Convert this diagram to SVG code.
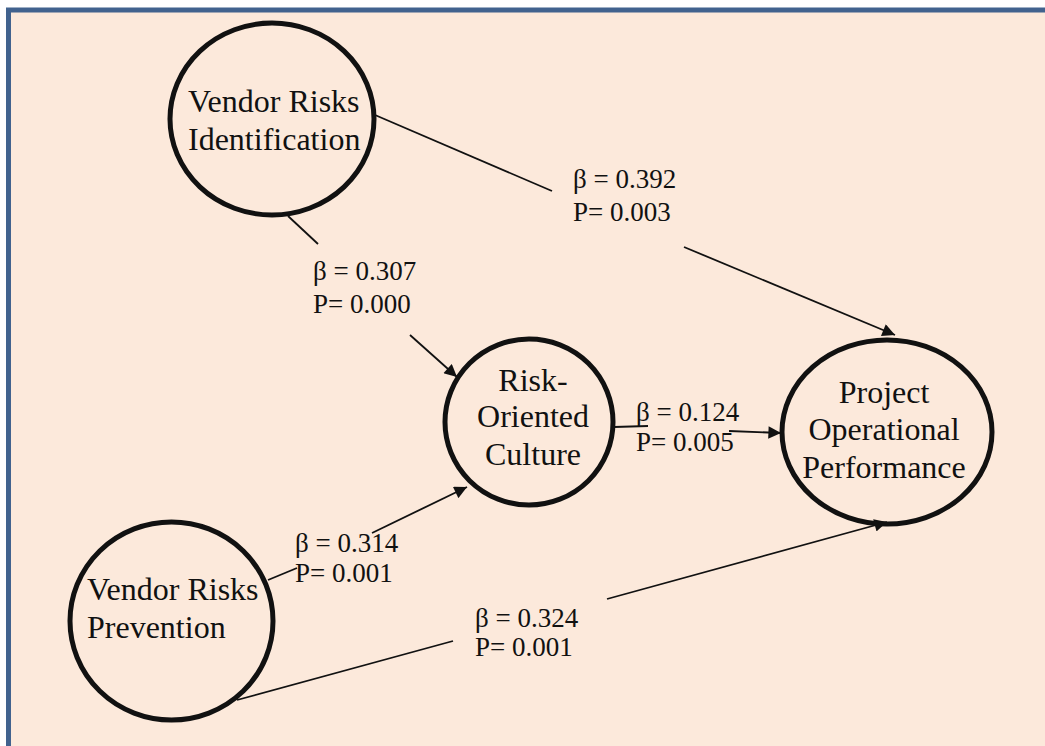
<svg xmlns="http://www.w3.org/2000/svg" width="1045" height="746" viewBox="0 0 1045 746">
<defs>
<style>
.node ellipse{fill:none;stroke:#111;stroke-width:5}
.node text{font-family:"Liberation Serif","Times New Roman",serif;font-size:32px;fill:#111}
.lbl{font-family:"Liberation Serif","Times New Roman",serif;font-size:27px;fill:#111}
.conn line{stroke:#111;stroke-width:1.8;fill:none}
</style>
<marker id="ah" viewBox="0 0 10 10" refX="10" refY="5" markerWidth="8" markerHeight="7" orient="auto" markerUnits="strokeWidth">
<path d="M0,0 L10,5 L0,10 Z" fill="#111"/>
</marker>
</defs>
<rect x="0" y="0" width="1045" height="746" fill="#ffffff"/>
<rect x="8.5" y="10" width="1100" height="800" fill="#FCE9DB" stroke="#41628E" stroke-width="5"/>

<g id="connectors" class="conn">
<line x1="375" y1="115" x2="552" y2="191"/>
<line x1="684" y1="247" x2="895" y2="335" marker-end="url(#ah)"/>
<line x1="288" y1="216" x2="318" y2="244"/>
<line x1="410" y1="335" x2="457" y2="377" marker-end="url(#ah)"/>
<line x1="614" y1="427" x2="648" y2="426"/>
<line x1="729" y1="431" x2="781" y2="433" marker-end="url(#ah)"/>
<line x1="268" y1="580" x2="297" y2="568"/>
<line x1="372" y1="533" x2="467" y2="487" marker-end="url(#ah)"/>
<line x1="237" y1="700" x2="453" y2="641"/>
<line x1="607" y1="599" x2="887" y2="522" marker-end="url(#ah)"/>
<text class="lbl" x="573" y="188">β = 0.392</text>
<text class="lbl" x="573" y="221">P= 0.003</text>
<text class="lbl" x="313" y="280">β = 0.307</text>
<text class="lbl" x="313" y="313">P= 0.000</text>
<text class="lbl" x="636" y="421">β = 0.124</text>
<text class="lbl" x="636" y="451">P= 0.005</text>
<text class="lbl" x="295" y="552">β = 0.314</text>
<text class="lbl" x="295" y="582">P= 0.001</text>
<text class="lbl" x="475" y="627">β = 0.324</text>
<text class="lbl" x="475" y="656">P= 0.001</text>
</g>

<g id="vri" class="node">
<ellipse cx="272" cy="119" rx="102" ry="96"/>
<text x="188" y="112">Vendor Risks</text>
<text x="188" y="150">Identification</text>
</g>
<g id="roc" class="node">
<ellipse cx="529" cy="422" rx="84" ry="83"/>
<text x="533" y="391" text-anchor="middle">Risk-</text>
<text x="533" y="427" text-anchor="middle">Oriented</text>
<text x="533" y="465" text-anchor="middle">Culture</text>
</g>
<g id="pop" class="node">
<ellipse cx="887" cy="432" rx="105" ry="92"/>
<text x="884" y="403" text-anchor="middle">Project</text>
<text x="884" y="440" text-anchor="middle">Operational</text>
<text x="884" y="478" text-anchor="middle">Performance</text>
</g>
<g id="vrp" class="node">
<ellipse cx="171.5" cy="621" rx="101.5" ry="99"/>
<text x="87" y="600">Vendor Risks</text>
<text x="87" y="638">Prevention</text>
</g>
</svg>
